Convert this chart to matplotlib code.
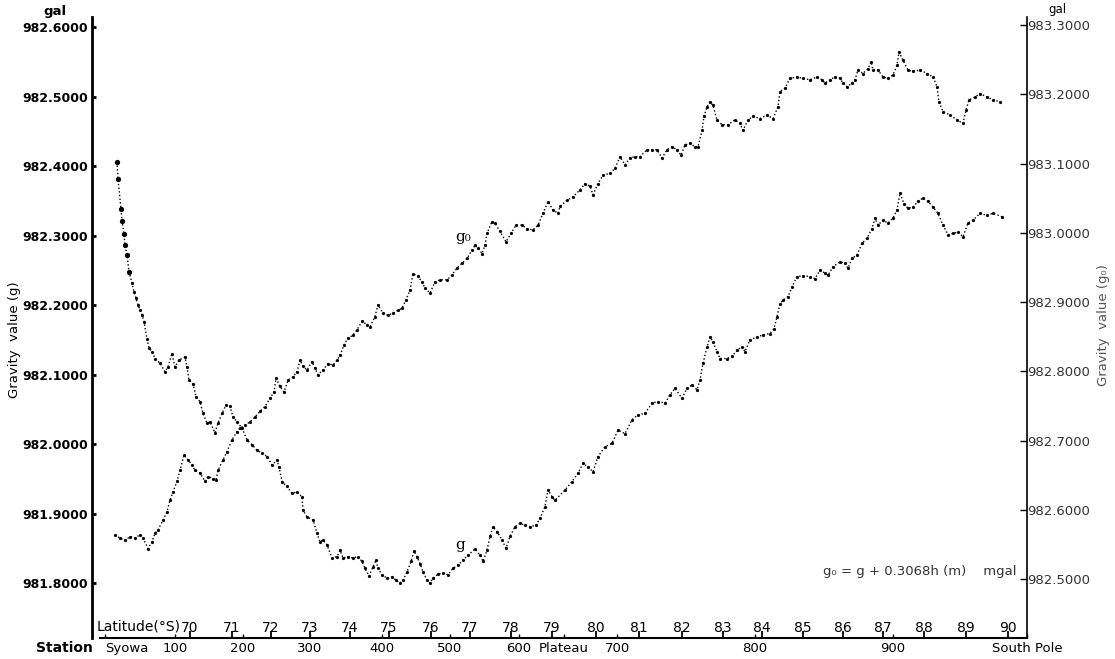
import matplotlib
matplotlib.use('Agg')
import matplotlib.pyplot as plt

plt.rcParams['font.family'] = ['DejaVu Sans']

# along-track position of each reading (Syowa = 0, South Pole = 922)
g_dist = [12, 13, 16, 17, 19, 20, 22, 24, 27, 29,
          31, 33, 35, 37, 39, 42, 44, 47, 50, 55,
          60, 63, 67, 70, 74, 80, 82, 84, 88, 91,
          95, 98, 102, 105, 110, 113, 117, 121, 125, 128,
          132, 137, 142, 147, 152, 157, 162, 167, 172, 174,
          177, 182, 187, 192, 197, 198, 202, 208, 212, 215,
          218, 222, 227, 232, 235, 238, 243, 248, 253, 257,
          260, 264, 268, 271, 273, 277, 282, 287, 291, 295,
          298, 302, 306, 309, 312, 315, 318, 322, 325, 328,
          333, 338, 343, 348, 353, 358, 363, 370, 375, 378,
          382, 385, 388, 392, 397, 401, 405, 410, 415, 420,
          425, 431, 435, 440, 443, 447, 450, 460, 467, 473,
          478, 483, 488, 493, 500, 507, 513, 520, 527, 533,
          540, 547, 553, 560, 565, 570, 577, 582, 587, 592,
          595, 598, 602, 605, 608, 612, 615, 622, 627, 632,
          637, 640, 645, 652, 658, 665, 669, 672, 675, 678,
          683, 687, 692, 698, 705, 710, 715, 720, 723, 728,
          735, 740, 743, 747, 752, 757, 762, 767, 770, 773,
          778, 783, 788, 792, 795, 799, 803, 808, 813, 818,
          823, 828, 833, 838, 843, 848, 853, 858, 863, 868,
          875, 882, 888, 897]
# gravity value g (gal), left scale
g_val = [982.406, 982.381, 982.338, 982.321, 982.302, 982.286, 982.272, 982.248, 982.231, 982.219,
         982.210, 982.200, 982.193, 982.186, 982.176, 982.151, 982.138, 982.133, 982.123, 982.116,
         982.104, 982.111, 982.130, 982.111, 982.121, 982.125, 982.111, 982.092, 982.087, 982.068,
         982.061, 982.044, 982.030, 982.032, 982.016, 982.030, 982.044, 982.056, 982.054, 982.039,
         982.032, 982.023, 982.006, 981.999, 981.991, 981.987, 981.982, 981.970, 981.977, 981.967,
         981.946, 981.939, 981.929, 981.931, 981.924, 981.905, 981.895, 981.891, 981.872, 981.859,
         981.862, 981.855, 981.836, 981.838, 981.847, 981.836, 981.838, 981.836, 981.838, 981.831,
         981.821, 981.810, 981.823, 981.833, 981.821, 981.812, 981.807, 981.809, 981.804, 981.800,
         981.804, 981.816, 981.831, 981.846, 981.838, 981.828, 981.816, 981.804, 981.800, 981.807,
         981.813, 981.814, 981.812, 981.821, 981.826, 981.833, 981.840, 981.849, 981.840, 981.831,
         981.847, 981.867, 981.881, 981.874, 981.862, 981.850, 981.867, 981.881, 981.886, 981.883,
         981.881, 981.883, 981.893, 981.910, 981.934, 981.924, 981.919, 981.934, 981.946, 981.958,
         981.972, 981.967, 981.960, 981.982, 981.996, 982.001, 982.020, 982.015, 982.035, 982.042,
         982.044, 982.059, 982.061, 982.059, 982.071, 982.080, 982.066, 982.080, 982.085, 982.078,
         982.092, 982.116, 982.140, 982.154, 982.147, 982.133, 982.123, 982.123, 982.126, 982.135,
         982.140, 982.133, 982.150, 982.154, 982.157, 982.159, 982.166, 982.183, 982.202, 982.207,
         982.212, 982.226, 982.241, 982.242, 982.241, 982.238, 982.250, 982.246, 982.243, 982.255,
         982.262, 982.260, 982.253, 982.267, 982.272, 982.289, 982.296, 982.310, 982.325, 982.315,
         982.322, 982.318, 982.325, 982.337, 982.361, 982.346, 982.339, 982.341, 982.349, 982.354,
         982.349, 982.341, 982.332, 982.315, 982.301, 982.303, 982.305, 982.298, 982.318, 982.322,
         982.332, 982.329, 982.332, 982.327]

g0_dist = [10, 15, 20, 25, 30, 35, 38, 43, 47, 50,
           53, 58, 62, 65, 68, 72, 75, 79, 83, 87,
           90, 95, 100, 103, 108, 111, 113, 118, 122, 127,
           132, 135, 140, 145, 150, 155, 160, 165, 169, 171,
           175, 179, 183, 188, 192, 195, 198, 202, 207, 210,
           213, 218, 223, 228, 232, 235, 239, 243, 248, 252,
           257, 262, 265, 270, 273, 278, 283, 288, 293, 297,
           301, 305, 308, 313, 317, 320, 325, 330, 335, 342,
           347, 352, 357, 362, 367, 370, 373, 377, 380, 382,
           387, 390, 395, 401, 406, 411, 417, 422, 428, 433,
           438, 443, 448, 453, 455, 462, 468, 475, 480, 485,
           488, 493, 498, 505, 510, 515, 520, 525, 530, 535,
           542, 547, 552, 557, 562, 567, 572, 576, 580, 585,
           590, 593, 597, 599, 602, 605, 608, 612, 617, 623,
           630, 635, 638, 643, 648, 655, 662, 668, 673, 675,
           680, 685, 692, 698, 705, 712, 717, 720, 725, 730,
           735, 738, 742, 747, 750, 753, 758, 763, 766, 768,
           773, 778, 783, 788, 792, 794, 798, 803, 808, 815,
           822, 828, 832, 834, 838, 845, 852, 858, 861, 864,
           870, 875, 882, 888, 895]
# free-air reduced value g0 (gal), right scale
g0_val = [982.564, 982.559, 982.556, 982.561, 982.559, 982.564, 982.559, 982.544, 982.554, 982.566,
          982.571, 982.585, 982.597, 982.614, 982.626, 982.641, 982.657, 982.679, 982.672, 982.665,
          982.657, 982.653, 982.641, 982.648, 982.645, 982.643, 982.657, 982.672, 982.684, 982.701,
          982.713, 982.718, 982.722, 982.727, 982.734, 982.742, 982.749, 982.761, 982.770, 982.790,
          982.778, 982.770, 982.787, 982.792, 982.799, 982.816, 982.807, 982.802, 982.814, 982.804,
          982.795, 982.802, 982.811, 982.809, 982.816, 982.823, 982.838, 982.848, 982.852, 982.860,
          982.872, 982.867, 982.864, 982.879, 982.896, 982.884, 982.881, 982.884, 982.888, 982.891,
          982.903, 982.917, 982.941, 982.937, 982.929, 982.920, 982.913, 982.929, 982.932, 982.932,
          982.939, 982.949, 982.956, 982.963, 982.975, 982.982, 982.978, 982.970, 982.982, 982.999,
          983.016, 983.014, 983.002, 982.987, 982.999, 983.011, 983.011, 983.006, 983.004, 983.011,
          983.028, 983.045, 983.033, 983.028, 983.038, 983.047, 983.052, 983.062, 983.071, 983.067,
          983.055, 983.071, 983.083, 983.086, 983.093, 983.110, 983.098, 983.108, 983.110, 983.110,
          983.120, 983.120, 983.120, 983.108, 983.120, 983.124, 983.120, 983.112, 983.127, 983.129,
          983.124, 983.124, 983.148, 983.168, 983.182, 983.189, 983.184, 983.163, 983.156, 983.156,
          983.163, 983.158, 983.148, 983.163, 983.168, 983.165, 983.170, 983.165, 983.182, 983.204,
          983.209, 983.223, 983.225, 983.223, 983.221, 983.225, 983.221, 983.216, 983.221, 983.225,
          983.223, 983.216, 983.211, 983.216, 983.221, 983.235, 983.230, 983.237, 983.247, 983.235,
          983.235, 983.225, 983.223, 983.228, 983.242, 983.261, 983.249, 983.235, 983.233, 983.235,
          983.230, 983.225, 983.211, 983.189, 983.175, 983.170, 983.163, 983.158, 983.177, 983.192,
          983.196, 983.201, 983.196, 983.192, 983.189]

left_ticks = [981.8, 981.9, 982.0, 982.1, 982.2, 982.3, 982.4, 982.5, 982.6]
right_ticks = [982.5, 982.6, 982.7, 982.8, 982.9, 983.0, 983.1, 983.2, 983.3]

station_labels = ['Syowa', '100', '200', '300', '400', '500', '600', 'Plateau',
                  '700', '800', '900', 'South Pole']
station_pos = [0, 70, 138, 205, 277, 345, 414, 459, 512, 650, 788, 922]

lat_labels = [str(v) for v in range(70, 91)]
lat_pos = [85, 127, 166, 205, 245, 284, 326, 365, 406, 447, 491,
           534, 577, 618, 657, 698, 738, 778, 819, 861, 903]

W, H = 1115, 659
fig = plt.figure(figsize=(W / 100, H / 100), dpi=100)
ax = fig.add_axes([92 / W, 21 / H, 935 / W, 621 / H])
ax.set_xlim(-13, 922)
ax.set_ylim(981.7209, 982.6144)
axr = ax.twinx()
axr.set_ylim(982.4148, 983.3116)

# g : big dots near Syowa, small dots further inland
ax.plot(g_dist, g_val, ls=':', lw=1.0, color='k', marker='o', ms=2.3, mec='none')
ax.plot(g_dist[:8], g_val[:8], 'o', color='k', ms=3.8, mec='none')
axr.plot(g0_dist, g0_val, ls=':', lw=1.0, color='k', marker='o', ms=2.3, mec='none')

# spines
ax.spines['top'].set_visible(False)
ax.spines['right'].set_visible(False)
ax.spines['left'].set_linewidth(2)
ax.spines['bottom'].set_linewidth(1.5)
ax.spines['bottom'].set_bounds(-5, 922)
for s in ['top', 'left', 'bottom']:
    axr.spines[s].set_visible(False)
axr.spines['right'].set_linewidth(1.2)

# left scale
ax.set_yticks(left_ticks, ['%.4f' % v for v in left_ticks])
ax.tick_params(axis='y', direction='in', length=3, width=2, pad=3, labelsize=9)
for lab in ax.get_yticklabels():
    lab.set_fontweight('bold')

# right scale
axr.set_yticks(right_ticks, ['%.4f' % v for v in right_ticks])
axr.tick_params(axis='y', direction='in', length=5, width=1, pad=0, labelsize=9.5,
                labelcolor='#333333')

# station (below) and latitude (above) along the bottom line
ax.xaxis.remove_overlapping_locs = False
ax.set_xticks(station_pos, station_labels)
ax.set_xticks(lat_pos, lat_labels, minor=True)
ax.tick_params(axis='x', which='major', direction='in', length=3, width=1, pad=3, labelsize=9.5)
ax.tick_params(axis='x', which='minor', direction='in', length=5, width=1.3, pad=-12.5, labelsize=10)
ax.get_xticklabels()[0].set_horizontalalignment('left')

fig.text(64 / W, 1 - 648 / H, 'Station', ha='center', va='center', fontsize=10, fontweight='semibold')
fig.text(97 / W, 1 - 627 / H, 'Latitude(°S)', ha='left', va='center', fontsize=10)
fig.text(55 / W, 1 - 12 / H, 'gal', ha='center', va='center', fontsize=9.5, fontweight='bold')
fig.text(1057 / W, 1 - 9 / H, 'gal', ha='center', va='center', fontsize=8.5)

fig.text(15 / W, 1 - 340 / H, 'Gravity  value (g)', rotation=90, ha='center', va='center', fontsize=9.5)
fig.text(1103 / W, 1 - 325 / H, 'Gravity  value (g₀)', rotation=90, ha='center', va='center',
         fontsize=9.5, color='#555555')

fig.text(455 / W, 1 - 237 / H, 'g₀', family='DejaVu Serif', fontsize=11, ha='left', va='center')
fig.text(455 / W, 1 - 545 / H, 'g', family='DejaVu Serif', fontsize=11, ha='left', va='center')
fig.text(823 / W, 1 - 572 / H, 'g₀ = g + 0.3068h (m)    mgal', ha='left', va='center',
         fontsize=9.5, color='#333333')

fig.savefig('out.png', dpi=100)
